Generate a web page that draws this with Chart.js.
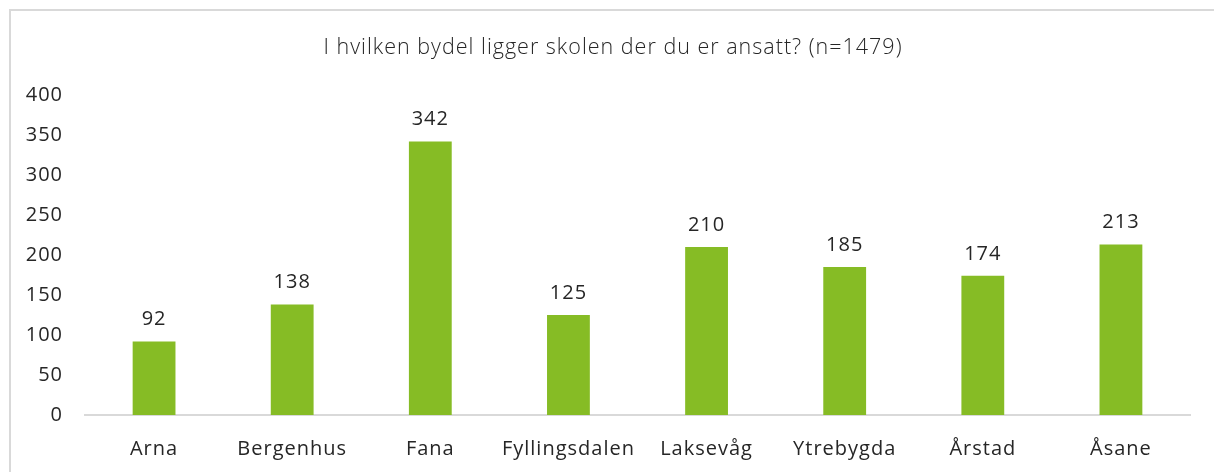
<!DOCTYPE html>
<html><head><meta charset="utf-8">
<script src="https://cdn.jsdelivr.net/npm/chart.js@4"></script>
<style>html,body{margin:0;padding:0;background:#fff}#wrap{width:1214px;height:472px;position:relative}</style>
</head><body><div id="wrap"><canvas id="c" width="1214" height="472"></canvas></div>
<script>
const titleText = "I hvilken bydel ligger skolen der du er ansatt? (n=1479)";
const categories = ["Arna","Bergenhus","Fana","Fyllingsdalen","Laksevåg","Ytrebygda","Årstad","Åsane"];
const values = [92,138,342,125,210,185,174,213];
const yTicks = [0,50,100,150,200,250,300,350,400];

const FONT = "'Open Sans', sans-serif";
const SPACING = '1px';
const decor = {
  id: 'decor',
  beforeInit(chart){ chart.ctx.letterSpacing = SPACING; },
  beforeLayout(chart){ chart.ctx.letterSpacing = SPACING; },
  beforeDraw(chart){
    const ctx = chart.ctx;
    ctx.letterSpacing = SPACING;
    ctx.save();
    ctx.strokeStyle = '#d9d9d9';
    ctx.lineWidth = 2;
    ctx.beginPath();
    ctx.moveTo(10, 480); ctx.lineTo(10, 10); ctx.lineTo(1214, 10);
    ctx.stroke();
    ctx.fillStyle = '#262626';
    ctx.font = "300 21.5px " + FONT;
    ctx.textAlign = 'center'; ctx.textBaseline = 'middle';
    ctx.fillText(titleText, 613, 48);
    ctx.restore();
  },
  afterDatasetsDraw(chart){
    const ctx = chart.ctx;
    const meta = chart.getDatasetMeta(0);
    ctx.save();
    ctx.fillStyle = '#262626';
    ctx.font = "20px " + FONT;
    ctx.textAlign = 'center'; ctx.textBaseline = 'middle';
    meta.data.forEach((bar, i) => {
      ctx.fillText(String(chart.data.datasets[0].data[i]), bar.x, bar.y - 22);
    });
    ctx.restore();
  }
};

new Chart(document.getElementById('c'), {
  type: 'bar',
  data: { labels: categories, datasets: [{ data: values, backgroundColor: '#86bc25', categoryPercentage: 1, barPercentage: 0.31 }] },
  options: {
    responsive: false, animation: false, devicePixelRatio: 1,
    layout: { padding: { top: 95, right: 24, left: 0, bottom: 0 } },
    plugins: { legend: { display: false }, tooltip: { enabled: false }, title: { display: false } },
    scales: {
      y: {
        min: 0, max: 400,
        afterBuildTicks: s => { s.ticks = yTicks.map(v => ({ value: v })); },
        afterFit: s => { s.width = 85; },
        grid: { display: false, drawTicks: false },
        border: { display: false },
        ticks: { color: '#262626', font: { family: FONT, size: 20 }, padding: 22 }
      },
      x: {
        afterFit: s => { s.height = 57; },
        grid: { display: false, drawTicks: false },
        border: { display: true, color: '#d9d9d9', width: 2 },
        ticks: { color: '#262626', font: { family: FONT, size: 20 }, padding: 22, maxRotation: 0, minRotation: 0, autoSkip: false }
      }
    }
  },
  plugins: [decor]
});
</script></body></html>
